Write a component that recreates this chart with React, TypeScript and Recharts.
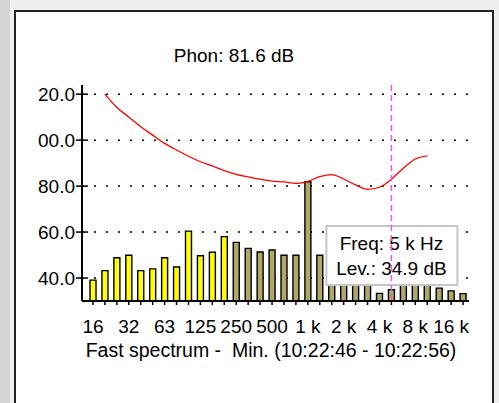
import React from "react";
import { ComposedChart, Bar, Line, XAxis, YAxis, CartesianGrid, Cell, ReferenceLine } from "recharts";

// 1/3-octave bands, 16 Hz .. 20 kHz
const bands = [
  "16", "20", "25", "31.5", "40", "50", "63", "80", "100", "125", "160", "200",
  "250", "315", "400", "500", "630", "800", "1k", "1.25k", "1.6k", "2k", "2.5k", "3.15k",
  "4k", "5k", "6.3k", "8k", "10k", "12.5k", "16k", "20k",
];

// band levels (dB)
const levels = [
  39.1, 43.2, 48.8, 49.9, 43.2, 44.0, 48.8, 44.8, 60.4, 49.7, 51.2, 58.0,
  55.5, 52.9, 51.3, 52.2, 49.9, 49.9, 81.9, 49.9, 45.0, 44.0, 42.0, 40.0,
  33.3, 34.9, 40.0, 42.0, 41.0, 35.6, 34.4, 33.2,
];

// phon curve (dB)
const phon = [
  null, 120.0, 114.2, 110.1, 105.8, 102.2, 98.6, 95.7, 93.0, 90.6, 88.8, 86.7,
  85.1, 84.0, 83.0, 82.2, 81.8, 81.2, 82.1, 84.1, 85.0, 83.1, 80.5, 78.6,
  79.5, 83.0, 87.8, 91.8, 93.2, null, null, null,
];

const bandLabels: Record<string, string> = {
  "16": "16", "31.5": "32", "63": "63", "125": "125", "250": "250", "500": "500",
  "1k": "1 k", "2k": "2 k", "4k": "4 k", "8k": "8 k", "16k": "16 k",
};

const yTicks = [40, 50, 60, 70, 80, 90, 100, 110, 120];
const yLabels: Record<number, string> = { 40: "40.0", 60: "60.0", 80: "80.0", 100: "00.0", 120: "20.0" };
const gridValues = [40, 60, 80, 100, 120];

const lastYellow = 11; // up to 200 Hz
const cursorBand = "5k";
const cursorFreq = "5 k Hz";
const title = "Phon: 81.6 dB";
const subtitle = "Fast spectrum -  Min. (10:22:46 - 10:22:56)";

const data = bands.map((band, i) => ({ band, level: levels[i], phon: phon[i] }));
const cursorLevel = levels[bands.indexOf(cursorBand)];

const FONT = "'Liberation Sans', Arial, sans-serif";

function YTick(props: any) {
  const { x, y, payload } = props;
  const label = yLabels[payload.value];
  const half = label ? 6 : 4;
  return (
    <g>
      <line x1={x - half} x2={x + half} y1={y} y2={y} stroke="#000" strokeWidth={1.5} />
      {label && (
        <text x={x - 7} y={y} dy="0.36em" textAnchor="end" fontSize={19} fill="#000">
          {label}
        </text>
      )}
    </g>
  );
}

function CursorBox(props: any) {
  const { viewBox } = props;
  if (!viewBox) return null;
  const cx = viewBox.x;
  const top = viewBox.y;
  const bottom = viewBox.y + viewBox.height;
  return (
    <g>
      <rect x={cx - 65} y={bottom - 75} width={131} height={59} fill="#fff" stroke="#c6c6c6" strokeWidth={2} />
      <text x={cx} y={bottom - 58} dy="0.36em" textAnchor="middle" fontSize={19} fill="#000">
        {`Freq: ${cursorFreq}`}
      </text>
      <text x={cx} y={bottom - 33} dy="0.36em" textAnchor="middle" fontSize={19} fill="#000">
        {`Lev.: ${cursorLevel.toFixed(1)} dB`}
      </text>
      <line x1={cx} x2={cx} y1={top} y2={bottom} stroke="#ff55c0" strokeWidth={1.5} strokeDasharray="6 4" />
    </g>
  );
}

export default function App() {
  return (
    <div style={{ position: "absolute", left: 0, top: 0, width: 499, height: 403, background: "#f0f0f0", overflow: "hidden", fontFamily: FONT }}>
      <div style={{ position: "absolute", left: 0, top: 0, width: 10, height: 403, background: "#d4d4d4" }} />
      <div style={{ position: "absolute", left: 14, top: 10, width: 476, height: 420, background: "#fff", border: "2px solid #222" }} />
      <div style={{ position: "absolute", left: 0, top: 46, width: 468, textAlign: "center", fontSize: 19, lineHeight: "19px", color: "#000" }}>
        {title}
      </div>
      <div style={{ position: "absolute", left: 0, top: 341, width: 542, textAlign: "center", fontSize: 19.5, lineHeight: "19px", color: "#000", whiteSpace: "pre" }}>
        {subtitle}
      </div>
      <div style={{ position: "absolute", left: 0, top: 0 }}>
        <ComposedChart width={499} height={403} data={data} margin={{ top: 85, right: 30, left: 22, bottom: 62 }}>
          <CartesianGrid
            vertical={false}
            horizontalValues={gridValues}
            stroke="#000"
            strokeWidth={1.5}
            strokeDasharray="2 10"
          />
          <XAxis
            dataKey="band"
            interval={0}
            padding={{ left: 5, right: 0 }}
            height={40}
            tickSize={4}
            tickMargin={15}
            axisLine={{ stroke: "#000", strokeWidth: 2 }}
            tickLine={{ stroke: "#000", strokeWidth: 1.5 }}
            tick={{ fontSize: 19, fill: "#000" }}
            tickFormatter={(v) => bandLabels[v] ?? ""}
          />
          <YAxis
            type="number"
            domain={[30, 124]}
            ticks={yTicks}
            width={60}
            tickSize={0}
            tickMargin={0}
            tickLine={false}
            axisLine={{ stroke: "#000", strokeWidth: 2 }}
            tick={<YTick />}
          />
          <Bar dataKey="level" barSize={6} stroke="#000" strokeWidth={1.4} isAnimationActive={false}>
            {data.map((d, i) => (
              <Cell key={d.band} fill={i <= lastYellow ? "#ffff00" : "#b0a868"} />
            ))}
          </Bar>
          <Line
            dataKey="phon"
            type="monotone"
            stroke="#ff0000"
            strokeWidth={1.3}
            dot={false}
            activeDot={false}
            connectNulls={false}
            isAnimationActive={false}
          />
          <ReferenceLine x={cursorBand} stroke="none" label={<CursorBox />} />
        </ComposedChart>
      </div>
    </div>
  );
}
